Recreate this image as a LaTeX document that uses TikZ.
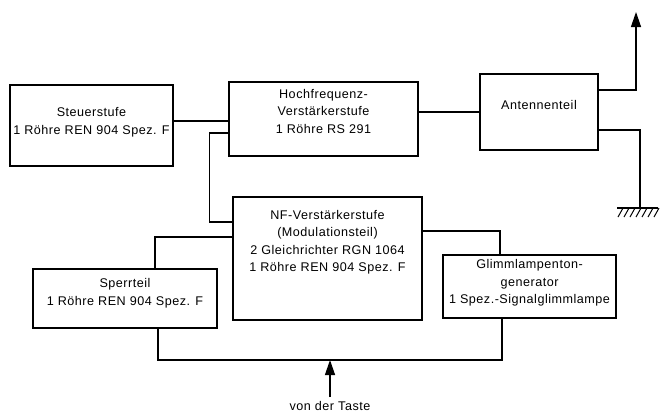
\documentclass[tikz,border=0pt]{standalone}
\usepackage{fontspec}
\setmainfont{Liberation Sans}[LetterSpace=4]
\usetikzlibrary{arrows.meta}

\begin{document}
\begin{tikzpicture}[
   x=1pt, y=-1pt,
   blk/.style={draw, line width=1.3pt, inner sep=0pt},
   txt/.style={align=center, font=\fontsize{12.6}{17.5}\selectfont, inner sep=1pt},
   wire/.style={line width=1.3pt},
   arr/.style={wire, -{Triangle[length=15pt, width=10pt]}}]
  \useasboundingbox (0,0) rectangle (660,416);
  \node[blk, minimum width=163pt, minimum height=81pt,
        label={[txt, yshift=3.5pt]center:{Steuerstufe\\1 Röhre REN 904 Spez. F}}] (st) at (91.5,125.5) {};
  \node[blk, minimum width=189pt, minimum height=74pt,
        label={[txt, yshift=8pt]center:{Hochfrequenz-\\Verstärkerstufe\\1 Röhre RS 291}}] (hf) at (323.5,119) {};
  \node[blk, minimum width=118pt, minimum height=76pt,
        label={[txt, yshift=7pt]center:{Antennenteil}}] (ant) at (539,112) {};
  \node[blk, minimum width=189pt, minimum height=123pt,
        label={[txt, yshift=16.5pt]center:{NF-Verstärkerstufe\\(Modulationsteil)\\2 Gleichrichter RGN 1064\\1 Röhre REN 904 Spez. F}}] (nf) at (327.5,258.5) {};
  \node[blk, minimum width=184pt, minimum height=59pt,
        label={[txt, yshift=5.5pt]center:{Sperrteil\\1 Röhre REN 904 Spez. F}}] (sp) at (125,298.5) {};
  \node[blk, minimum width=173pt, minimum height=63pt,
        label={[txt, yshift=3.5pt]center:{Glimmlampenton-\\generator\\1 Spez.-Signalglimmlampe}}] (gl) at (529.5,286.5) {};
  \node[txt, font=\fontsize{12.6}{14}\selectfont] (vdt) at (330,406) {von der Taste};
  \coordinate (taste) at (330,360);
  \coordinate (aerial) at (636,12);
  \coordinate (gnd) at (640,208);

  \draw[wire] ([yshift=4.5]st.east) -- ([yshift=4.5]st.east -| hf.west);
  \draw[wire] (hf.east |- ant.west) -- (ant.west);
  \draw[wire] ([yshift=-14]hf.west) -- ++(-19,0) |- ([yshift=36.5]nf.west);
  \draw[wire] ([yshift=21.5]nf.west) -| ([xshift=30]sp.north);
  \draw[wire] ([yshift=27.5]nf.east) -| ([xshift=-29.5]gl.north);
  \draw[wire] ([xshift=33]sp.south) |- (taste) -| ([xshift=-27.5]gl.south);
  \draw[arr, shorten <=3pt] (vdt.north) -- (taste);
  \draw[arr] ([yshift=22]ant.east) -| (aerial);
  \draw[wire] ([yshift=-18]ant.east) -| (gnd);
  \draw[wire] ([xshift=-23]gnd) -- ([xshift=18]gnd);
  \foreach \i in {0,...,6} {\draw[line width=1pt] ([xshift=-17+\i*6]gnd) -- ++(-5,9);}
\end{tikzpicture}
\end{document}
